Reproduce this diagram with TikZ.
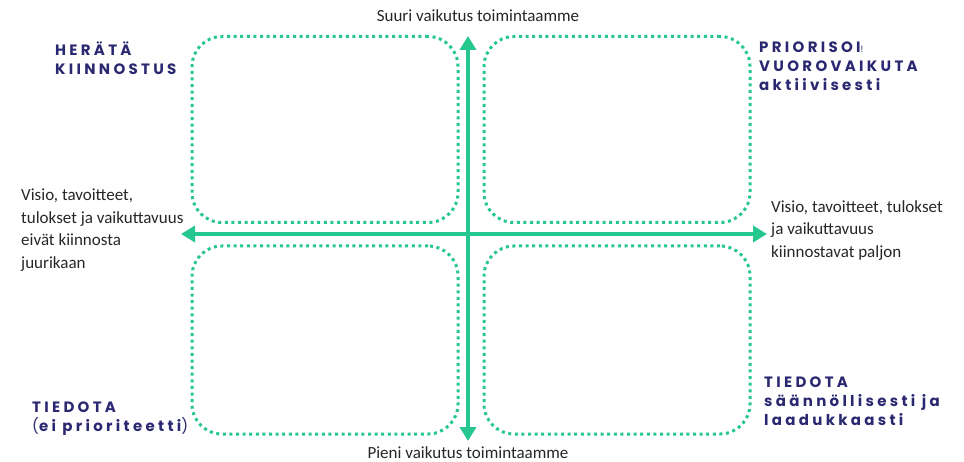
\documentclass[tikz,border=0pt]{standalone}
\usepackage{fontspec}
\setmainfont{Carlito}
\newfontfamily\lblfont[LetterSpace=22]{Poppins}
\usetikzlibrary{arrows.meta}
\definecolor{qgreen}{RGB}{37,199,143}
\definecolor{qnavy}{RGB}{42,40,112}
\definecolor{qtext}{RGB}{38,38,38}
\newcommand{\lt}[1]{{\mdseries #1}}
\begin{document}
\begin{tikzpicture}[x=1pt,y=-1pt,
  quad/.style={draw=qgreen, line width=3pt, dash pattern=on 3pt off 3.6pt, line cap=butt,
     rounded corners=30pt, minimum width=266pt, minimum height=186pt, inner sep=0pt},
  axisline/.style={draw=qgreen, line width=4pt,
     arrows={Triangle[length=14pt,width=16pt]-Triangle[length=14pt,width=16pt]}},
  body/.style={font=\fontsize{17}{22.5}\selectfont, text=qtext, inner sep=0pt, align=left},
  lbl/.style={font=\lblfont\bfseries\fontsize{15}{19}\selectfont, text=qnavy, inner sep=0pt, align=left}
]
\useasboundingbox (0,0) rectangle (964,462);
\node[quad] (tl) at (325,129.5) {};
\node[quad] (tr) at (617,129.5) {};
\node[quad, minimum height=188pt] (bl) at (325,340) {};
\node[quad, minimum height=188pt] (br) at (617,340) {};
\coordinate (vt) at (468,36);
\coordinate (vb) at (468,441);
\coordinate (hl) at (181,234);
\coordinate (hr) at (767,234);
\draw[axisline] (vb) -- (vt);
\draw[axisline] (hr) -- (hl);
\node[body] (ttop) at (478,16) {Suuri vaikutus toimintaamme};
\node[body] (tbot) at (468,453) {Pieni vaikutus toimintaamme};
\node[body, anchor=north west] (tleft) at (21,189) {Visio, tavoitteet,\\tulokset ja vaikuttavuus\\eivät kiinnosta\\juurikaan};
\node[body, anchor=north west] (tright) at (771,200) {Visio, tavoitteet, tulokset\\ja vaikuttavuus\\kiinnostavat paljon};
\node[lbl, anchor=north west] (lhe) at (55,42) {HERÄTÄ\\KIINNOSTUS};
\node[lbl, anchor=north west] (lpr) at (759,42) {PRIORISOI\lt{\small !}\\VUOROVAIKUTA\\aktiivisesti};
\node[lbl, anchor=north west] (lti) at (32,402) {TIEDOTA\\\lt{(}ei prioriteetti\lt{)}};
\node[lbl, anchor=north west] (ltr) at (764,377) {TIEDOTA\\säännöllisesti ja\\laadukkaasti};
\end{tikzpicture}
\end{document}
